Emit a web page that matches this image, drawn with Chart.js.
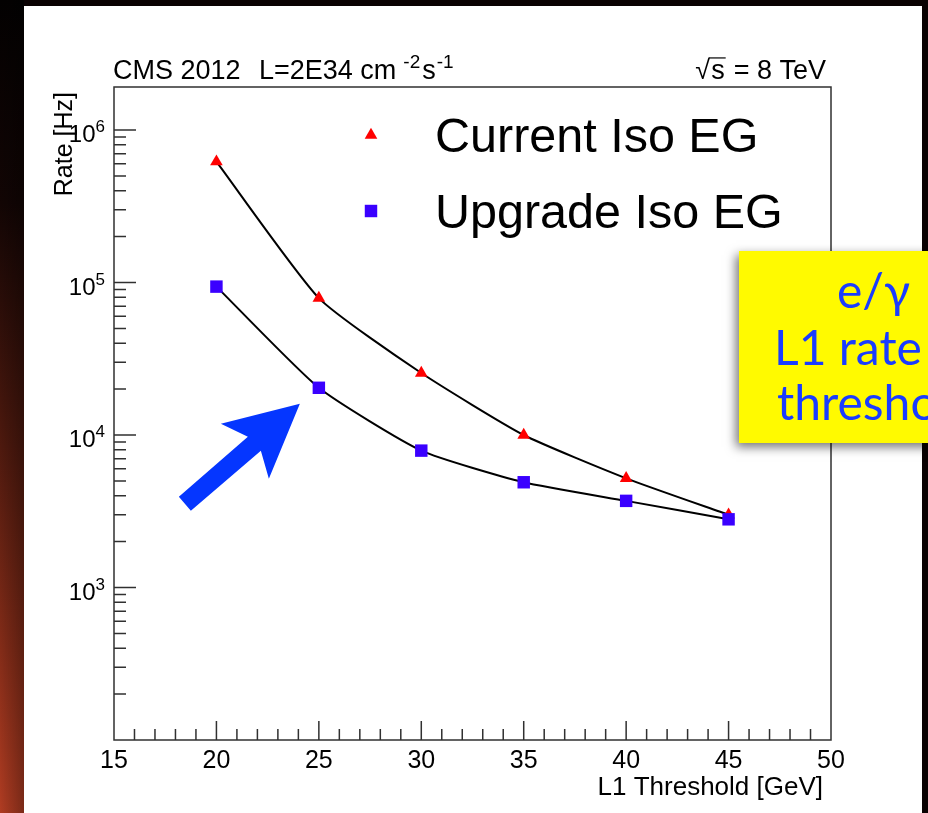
<!DOCTYPE html>
<html>
<head>
<meta charset="utf-8">
<title>L1 Iso EG rate vs threshold</title>
<script src="https://cdn.jsdelivr.net/npm/chart.js@4.4.1/dist/chart.umd.min.js"></script>
<style>
  html, body { margin: 0; padding: 0; background: #000; overflow: hidden; }
  canvas { display: block; }
</style>
</head>
<body>
<canvas id="rateChart" width="928" height="813" style="width:928px;height:813px"></canvas>
<script>
// L1 threshold points (GeV) and measured rates (Hz)
const thresholds = [20, 25, 30, 35, 40, 45];
const currentIsoEG = [6.2e5, 7.9e4, 2.55e4, 1.0e4, 5.2e3, 3.0e3];
const upgradeIsoEG = [9.4e4, 2.04e4, 7.9e3, 4.9e3, 3.7e3, 2.8e3];
const xTickLabels = [15, 20, 25, 30, 35, 40, 45, 50];
const yTickLabels = [1e3, 1e4, 1e5, 1e6];

const ROOT_FONT = '"Liberation Sans", Arial, Helvetica, sans-serif';
const BOX_FONT = 'Lato, "Open Sans", sans-serif';

function toPoints(values) {
  return thresholds.map((x, i) => ({ x: x, y: values[i] }));
}

// same geometry as Chart.js point styles
function drawMarker(ctx, style, x, y, r, color) {
  ctx.save();
  ctx.fillStyle = color;
  ctx.beginPath();
  if (style === 'triangle') {
    for (let i = 0; i < 3; i++) {
      const a = i * 2 * Math.PI / 3;
      const px = x + Math.sin(a) * r;
      const py = y - Math.cos(a) * r;
      if (i === 0) ctx.moveTo(px, py); else ctx.lineTo(px, py);
    }
    ctx.closePath();
  } else {
    const s = r * Math.SQRT1_2;
    ctx.rect(x - s, y - s, 2 * s, 2 * s);
  }
  ctx.fill();
  ctx.restore();
}

// text with ROOT-style superscripts: parts = [[text, isSup, gapBefore], ...]
function drawParts(ctx, parts, x, y, size) {
  let cx = x;
  ctx.textAlign = 'left';
  parts.forEach(([t, sup, gap]) => {
    cx += gap || 0;
    ctx.font = (sup ? Math.round(size * 0.7) : size) + 'px ' + ROOT_FONT;
    ctx.fillText(t, cx, sup ? y - size * 0.42 : y);
    cx += ctx.measureText(t).width;
  });
  return cx;
}

const decorations = {
  id: 'decorations',
  beforeDraw(chart) {
    const ctx = chart.ctx;
    const W = chart.width, H = chart.height;
    ctx.save();
    ctx.fillStyle = '#0a0202';
    ctx.fillRect(0, 0, W, H);
    const g = ctx.createLinearGradient(0, 0, 0, H);
    g.addColorStop(0, '#030101');
    g.addColorStop(0.25, '#120504');
    g.addColorStop(0.55, '#4e190e');
    g.addColorStop(0.8, '#842c18');
    g.addColorStop(1, '#b03c22');
    ctx.fillStyle = g;
    ctx.fillRect(0, 0, 24, H);
    const h = ctx.createLinearGradient(0, 0, 24, 0);
    h.addColorStop(0, 'rgba(0,0,0,0)');
    h.addColorStop(1, 'rgba(0,0,0,0.3)');
    ctx.fillStyle = h;
    ctx.fillRect(0, 0, 24, H);
    ctx.fillStyle = '#ffffff';
    ctx.fillRect(24, 6, 898, H - 6);
    ctx.restore();
  },
  afterDraw(chart) {
    const ctx = chart.ctx;
    const { left, right, top, bottom } = chart.chartArea;
    const xs = chart.scales.x, ys = chart.scales.y;
    ctx.save();

    // frame and inward ticks
    ctx.strokeStyle = '#303030';
    ctx.lineWidth = 1.5;
    ctx.strokeRect(left, top, right - left, bottom - top);
    ctx.beginPath();
    xs.ticks.forEach(t => {
      const v = t.value;
      if (v <= xs.min || v >= xs.max) return;
      const px = xs.getPixelForValue(v);
      const len = v % 5 === 0 ? 19 : 11;
      ctx.moveTo(px, bottom);
      ctx.lineTo(px, bottom - len);
    });
    ys.ticks.forEach(t => {
      const v = t.value;
      if (v <= ys.min || v >= ys.max) return;
      const e = Math.floor(Math.log10(v) + 1e-9);
      const m = v / Math.pow(10, e);
      if (Math.abs(m - Math.round(m)) > 1e-6) return;
      const py = ys.getPixelForValue(v);
      const len = Math.round(m) === 1 ? 22 : 12;
      ctx.moveTo(left, py);
      ctx.lineTo(left + len, py);
    });
    ctx.stroke();

    ctx.fillStyle = '#000';
    ctx.textBaseline = 'alphabetic';

    // x tick labels
    ctx.font = '25px ' + ROOT_FONT;
    ctx.textAlign = 'center';
    xTickLabels.forEach(v => {
      ctx.fillText(String(v), xs.getPixelForValue(v), bottom + 28);
    });

    // y tick labels 10^n
    yTickLabels.forEach(v => {
      const py = ys.getPixelForValue(v);
      const exp = String(Math.round(Math.log10(v)));
      ctx.font = '17px ' + ROOT_FONT;
      ctx.textAlign = 'right';
      const supW = ctx.measureText(exp).width;
      ctx.fillText(exp, left - 9, py + 2);
      ctx.font = '24px ' + ROOT_FONT;
      ctx.fillText('10', left - 9 - supW, py + 12);
    });

    // axis titles
    ctx.font = '26px ' + ROOT_FONT;
    ctx.textAlign = 'right';
    ctx.fillText('L1 Threshold [GeV]', right - 8, bottom + 55);
    ctx.font = '25px ' + ROOT_FONT;
    ctx.save();
    ctx.translate(72, top + 5);
    ctx.rotate(-Math.PI / 2);
    ctx.fillText('Rate [Hz]', 0, 0);
    ctx.restore();

    // header line
    const hy = 79, hs = 27;
    ctx.font = hs + 'px ' + ROOT_FONT;
    ctx.textAlign = 'left';
    ctx.fillText('CMS 2012', 113, hy);
    drawParts(ctx, [['L=2E34 cm', false, 0], ['-2', true, 7], ['s', false, 2], ['-1', true, 1]], 259, hy, hs);
    ctx.font = hs + 'px ' + ROOT_FONT;
    ctx.textAlign = 'right';
    ctx.fillText('= 8 TeV', right - 5, hy);
    const eqW = ctx.measureText('= 8 TeV').width;
    const sEnd = right - 5 - eqW - 9;
    const sW = ctx.measureText('s').width;
    ctx.fillText('s', sEnd, hy);
    ctx.fillText('\u221A', sEnd - sW - 1, hy);
    ctx.beginPath();
    ctx.lineWidth = 1.2;
    ctx.strokeStyle = '#000';
    ctx.moveTo(sEnd - sW - 2, hy - hs * 0.78);
    ctx.lineTo(sEnd + 1, hy - hs * 0.78);
    ctx.stroke();

    // legend
    chart.data.datasets.forEach((ds, i) => {
      const ly = 135 + i * 76;
      drawMarker(ctx, ds.pointStyle, 371, ly, ds.pointRadius, ds.pointBackgroundColor);
      ctx.fillStyle = '#000';
      ctx.font = '48.5px ' + ROOT_FONT;
      ctx.textAlign = 'left';
      ctx.fillText(ds.label, 435, ly + 17);
    });

    // arrow pointing at the upgraded 25 GeV point
    const ax = xs.getPixelForValue(thresholds[1]) - 19;
    const ay = ys.getPixelForValue(upgradeIsoEG[1]) + 16;
    const arrow = [[0, 0], [-31, 75], [-39, 47], [-109, 107], [-121, 93], [-52, 33], [-79, 20]];
    ctx.fillStyle = '#0536ff';
    ctx.beginPath();
    arrow.forEach(([dx, dy], i) => {
      if (i === 0) ctx.moveTo(ax + dx, ay + dy); else ctx.lineTo(ax + dx, ay + dy);
    });
    ctx.closePath();
    ctx.fill();

    // yellow note box
    ctx.save();
    ctx.shadowColor = 'rgba(0,0,0,0.55)';
    ctx.shadowBlur = 10;
    ctx.shadowOffsetX = -3;
    ctx.shadowOffsetY = 4;
    ctx.fillStyle = '#fffa00';
    ctx.fillRect(739, 251, 220, 192);
    ctx.restore();
    ctx.fillStyle = '#1a3cff';
    ctx.font = '48px ' + BOX_FONT;
    ctx.textAlign = 'left';
    ctx.fillText('e/\u03B3', 837, 308);
    ctx.fillText('L1 rate vs', 774, 365);
    ctx.fillText('threshold', 777, 420);

    ctx.restore();
  }
};

const ctx = document.getElementById('rateChart').getContext('2d');
const rateChart = new Chart(ctx, {
  type: 'line',
  data: {
    datasets: [{
      label: 'Current Iso EG',
      data: toPoints(currentIsoEG),
      order: 1,
      borderColor: '#000000',
      borderWidth: 2,
      pointStyle: 'triangle',
      pointRadius: 7.3,
      pointBackgroundColor: '#ff0000',
      pointBorderWidth: 0,
      tension: 0.18,
      fill: false
    }, {
      label: 'Upgrade Iso EG',
      data: toPoints(upgradeIsoEG),
      order: 0,
      borderColor: '#000000',
      borderWidth: 2,
      pointStyle: 'rect',
      pointRadius: 8.8,
      pointBackgroundColor: '#3a00ff',
      pointBorderWidth: 0,
      tension: 0.18,
      fill: false
    }]
  },
  options: {
    responsive: false,
    animation: false,
    layout: { padding: { left: 0, top: 87, right: 97, bottom: 0 } },
    plugins: {
      legend: { display: false },
      tooltip: { enabled: false }
    },
    scales: {
      x: {
        type: 'linear',
        min: 15,
        max: 50,
        grid: { display: false },
        border: { display: false },
        ticks: { display: false, stepSize: 1, autoSkip: false },
        afterFit: scale => { scale.height = 73; }
      },
      y: {
        type: 'logarithmic',
        min: 100,
        max: 1.915e6,
        grid: { display: false },
        border: { display: false },
        ticks: { display: false },
        afterFit: scale => { scale.width = 114; }
      }
    }
  },
  plugins: [decorations]
});
</script>
</body>
</html>
